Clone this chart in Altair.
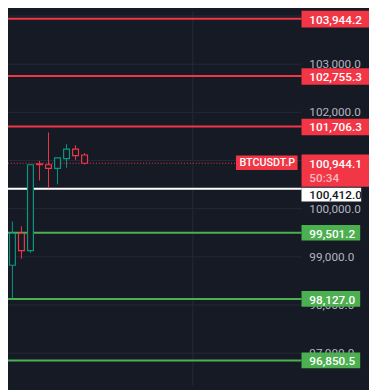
import altair as alt
import pandas as pd

BG = "#161a25"
RED = "#f23645"
TEAL = "#089981"
GREEN = "#4caf50"
GRID = "#262a36"
AXIS_TXT = "#b2b5be"
FONT = "Roboto"

# ---- data ----
idx    = [0, 1, 2, 3, 4, 5, 6, 7, 8, 9]
opens  = [99389, 98826, 99490, 99131, 100930, 100912, 100837, 101040, 101237, 101115]
highs  = [99409, 99734, 99633, 100912, 100993, 101582, 101054, 101339, 101318, 101156]
lows   = [98745, 98136, 98962, 99084, 100587, 100425, 100506, 100851, 101013, 100918]
closes = [98826, 99490, 99131, 100912, 100915, 100837, 101054, 101237, 101101, 100944.1]

red_levels = [103944.2, 102755.3, 101706.3]
green_levels = [99501.2, 98127.0, 96850.5]
white_level = [100412.0]
current_price = [100944.1]
symbol = ["BTCUSDT.P"]
countdown = ["50:34"]
grid_prices = [97000, 98000, 99000, 100000, 101000, 102000, 103000, 104000]
axis_label_prices = [97000, 98000, 99000, 100000, 102000, 103000]
time_grid = [21]

# ---- tables ----
candles = pd.DataFrame({"i": idx, "o": opens, "h": highs, "l": lows, "c": closes})
candles["dir"] = ["up" if c >= o else "down" for o, c in zip(opens, closes)]
red_df = pd.DataFrame({"p": red_levels})
green_df = pd.DataFrame({"p": green_levels})
white_df = pd.DataFrame({"p": white_level})
cur_df = pd.DataFrame({"p": current_price, "sym": symbol, "cd": countdown})
grid_df = pd.DataFrame({"p": grid_prices})
lab_df = pd.DataFrame({"p": axis_label_prices})
tgrid_df = pd.DataFrame({"i": time_grid})

xs = alt.Scale(domain=[0.51, 40.53], nice=False, zero=False)
ys = alt.Scale(domain=[96322.2, 104080.3], nice=False, zero=False)

X = lambda f: alt.X(f, type="quantitative", scale=xs, axis=None)
Y = lambda f: alt.Y(f, type="quantitative", scale=ys, axis=None)

PLOT_R = 300

grid = alt.Chart(grid_df).mark_rule(color=GRID, strokeWidth=1).encode(
    y=Y("p"), x=alt.value(0), x2=alt.value(PLOT_R))
tgrid = alt.Chart(tgrid_df).mark_rule(color=GRID, strokeWidth=1).encode(
    x=X("i"), y=alt.value(0), y2=alt.value(382))

red_lines = alt.Chart(red_df).mark_rule(color=RED, strokeWidth=2).encode(
    y=Y("p"), x=alt.value(0), x2=alt.value(PLOT_R))
green_lines = alt.Chart(green_df).mark_rule(color=GREEN, strokeWidth=2).encode(
    y=Y("p"), x=alt.value(0), x2=alt.value(PLOT_R))
white_line = alt.Chart(white_df).mark_rule(color="#ffffff", strokeWidth=2).encode(
    y=Y("p"), x=alt.value(0), x2=alt.value(PLOT_R))
cur_line = alt.Chart(cur_df).mark_rule(color=RED, strokeWidth=1, strokeDash=[1, 2]).encode(
    y=Y("p"), x=alt.value(0), x2=alt.value(232))

cscale = alt.Scale(domain=["up", "down"], range=[TEAL, RED])
wicks = alt.Chart(candles).mark_rule(strokeWidth=1).encode(
    x=X("i"), y=Y("l"), y2=alt.Y2("h"),
    color=alt.Color("dir:N", scale=cscale, legend=None))
bodies = alt.Chart(candles).mark_rect(xOffset=-3, x2Offset=3, fill=BG, strokeWidth=1.2).encode(
    x=X("i"), x2=alt.X2("i"), y=Y("o"), y2=alt.Y2("c"),
    stroke=alt.Stroke("dir:N", scale=cscale, legend=None))

axis_labels = alt.Chart(lab_df).mark_text(
    align="left", baseline="middle", font=FONT, fontSize=12, color=AXIS_TXT).encode(
    y=Y("p"), x=alt.value(308), text=alt.Text("p:Q", format=",.1f"))

def box(df, color, x2, y0, y1):
    return alt.Chart(df).mark_rect(color=color, yOffset=y0, y2Offset=y1).encode(
        y=Y("p"), y2=alt.Y2("p"), x=alt.value(300), x2=alt.value(x2))

def label(df, color, dy=0, field=None):
    txt = alt.Text("p:Q", format=",.1f") if field is None else alt.Text(field + ":N")
    return alt.Chart(df).mark_text(
        align="left", baseline="middle", font=FONT, fontSize=12, fontWeight=500,
        color=color, dy=dy).encode(y=Y("p"), x=alt.value(308), text=txt)

red_boxes = box(red_df, RED, 369, -8, 9)
green_boxes = box(green_df, GREEN, 360, -8, 8)
white_box = box(white_df, "#ffffff", 361, -1, 13)
cur_box = box(cur_df, RED, 369, -9, 24)
sym_box = alt.Chart(cur_df).mark_rect(color=RED, yOffset=-8, y2Offset=7).encode(
    y=Y("p"), y2=alt.Y2("p"), x=alt.value(233), x2=alt.value(296))

red_txt = label(red_df, "#ffffff", dy=1)
green_txt = label(green_df, "#ffffff", dy=1)
white_txt = label(white_df, "#131722", dy=6)
cur_txt = label(cur_df, "#ffffff", dy=1)
cd_txt = label(cur_df, "#f9b9bf", dy=15, field="cd")
sym_txt = alt.Chart(cur_df).mark_text(
    align="center", baseline="middle", font=FONT, fontSize=11, fontWeight=500,
    color="#ffffff", dy=0).encode(y=Y("p"), x=alt.value(265), text="sym:N")

chart = alt.layer(
    grid, tgrid, cur_line, red_lines, green_lines, white_line, wicks, bodies,
    axis_labels, red_boxes, green_boxes, white_box, cur_box, sym_box,
    red_txt, green_txt, white_txt, cur_txt, cd_txt, sym_txt,
).properties(
    width=369, height=382, padding=0,
    autosize=alt.AutoSizeParams(type="none"),
    background=BG,
).configure_view(strokeWidth=0)

chart.save("out.html", embed_options={"renderer": "svg", "actions": False})
